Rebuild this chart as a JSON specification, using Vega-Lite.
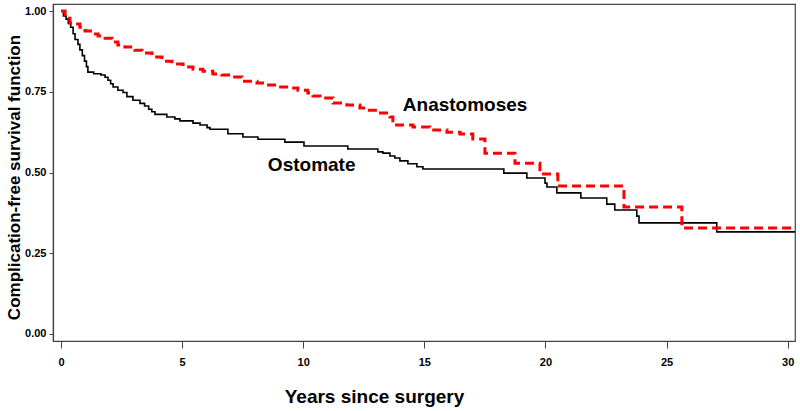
{
  "$schema": "https://vega.github.io/schema/vega-lite/v6.json",
  "width": 742,
  "height": 337,
  "autosize": {"type": "none"},
  "padding": {"left": 53, "top": 4, "right": 5, "bottom": 70},
  "background": "white",
  "config": {
    "view": {"stroke": "#444444", "strokeWidth": 1.2},
    "font": "Liberation Sans",
    "axis": {
      "grid": false,
      "domainColor": "#444444",
      "domainWidth": 1.2,
      "tickColor": "#444444",
      "labelFont": "Liberation Sans",
      "labelFontWeight": "bold",
      "labelFontSize": 11,
      "labelColor": "#000000",
      "titleFont": "Liberation Sans",
      "titleFontWeight": "bold",
      "titleColor": "#000000",
      "labelFlush": false
    }
  },
  "datasets": {
    "km": [
      {"group": "Ostomate", "t": 0, "s": 1.0},
      {"group": "Ostomate", "t": 0.10, "s": 0.985},
      {"group": "Ostomate", "t": 0.21, "s": 0.975},
      {"group": "Ostomate", "t": 0.30, "s": 0.962},
      {"group": "Ostomate", "t": 0.40, "s": 0.950},
      {"group": "Ostomate", "t": 0.50, "s": 0.930},
      {"group": "Ostomate", "t": 0.58, "s": 0.912},
      {"group": "Ostomate", "t": 0.70, "s": 0.897},
      {"group": "Ostomate", "t": 0.78, "s": 0.880},
      {"group": "Ostomate", "t": 0.88, "s": 0.862},
      {"group": "Ostomate", "t": 0.97, "s": 0.845},
      {"group": "Ostomate", "t": 1.05, "s": 0.828},
      {"group": "Ostomate", "t": 1.11, "s": 0.811},
      {"group": "Ostomate", "t": 1.35, "s": 0.806},
      {"group": "Ostomate", "t": 1.65, "s": 0.802},
      {"group": "Ostomate", "t": 1.82, "s": 0.795},
      {"group": "Ostomate", "t": 1.94, "s": 0.786},
      {"group": "Ostomate", "t": 2.05, "s": 0.775},
      {"group": "Ostomate", "t": 2.15, "s": 0.765},
      {"group": "Ostomate", "t": 2.35, "s": 0.755},
      {"group": "Ostomate", "t": 2.56, "s": 0.748},
      {"group": "Ostomate", "t": 2.72, "s": 0.735},
      {"group": "Ostomate", "t": 2.97, "s": 0.724},
      {"group": "Ostomate", "t": 3.26, "s": 0.714},
      {"group": "Ostomate", "t": 3.45, "s": 0.706},
      {"group": "Ostomate", "t": 3.62, "s": 0.696},
      {"group": "Ostomate", "t": 3.75, "s": 0.688},
      {"group": "Ostomate", "t": 3.88, "s": 0.680},
      {"group": "Ostomate", "t": 4.37, "s": 0.672},
      {"group": "Ostomate", "t": 4.70, "s": 0.666},
      {"group": "Ostomate", "t": 4.91, "s": 0.660},
      {"group": "Ostomate", "t": 5.45, "s": 0.653},
      {"group": "Ostomate", "t": 5.74, "s": 0.647},
      {"group": "Ostomate", "t": 6.03, "s": 0.639},
      {"group": "Ostomate", "t": 6.15, "s": 0.634},
      {"group": "Ostomate", "t": 6.89, "s": 0.620},
      {"group": "Ostomate", "t": 7.51, "s": 0.610},
      {"group": "Ostomate", "t": 8.13, "s": 0.603},
      {"group": "Ostomate", "t": 9.24, "s": 0.594},
      {"group": "Ostomate", "t": 10.03, "s": 0.582},
      {"group": "Ostomate", "t": 11.84, "s": 0.573},
      {"group": "Ostomate", "t": 13.08, "s": 0.564},
      {"group": "Ostomate", "t": 13.29, "s": 0.560},
      {"group": "Ostomate", "t": 13.58, "s": 0.551},
      {"group": "Ostomate", "t": 13.78, "s": 0.545},
      {"group": "Ostomate", "t": 13.99, "s": 0.536},
      {"group": "Ostomate", "t": 14.32, "s": 0.527},
      {"group": "Ostomate", "t": 14.69, "s": 0.518},
      {"group": "Ostomate", "t": 14.94, "s": 0.511},
      {"group": "Ostomate", "t": 18.28, "s": 0.498},
      {"group": "Ostomate", "t": 19.23, "s": 0.483},
      {"group": "Ostomate", "t": 19.98, "s": 0.467},
      {"group": "Ostomate", "t": 20.06, "s": 0.455},
      {"group": "Ostomate", "t": 20.47, "s": 0.437},
      {"group": "Ostomate", "t": 21.46, "s": 0.421},
      {"group": "Ostomate", "t": 22.53, "s": 0.402},
      {"group": "Ostomate", "t": 22.86, "s": 0.384},
      {"group": "Ostomate", "t": 23.77, "s": 0.365},
      {"group": "Ostomate", "t": 23.86, "s": 0.344},
      {"group": "Ostomate", "t": 27.07, "s": 0.316},
      {"group": "Ostomate", "t": 30.3, "s": 0.316},
      {"group": "Anastomoses", "t": 0, "s": 1.0},
      {"group": "Anastomoses", "t": 0.17, "s": 0.978},
      {"group": "Anastomoses", "t": 0.37, "s": 0.963},
      {"group": "Anastomoses", "t": 0.58, "s": 0.960},
      {"group": "Anastomoses", "t": 0.78, "s": 0.950},
      {"group": "Anastomoses", "t": 0.99, "s": 0.938},
      {"group": "Anastomoses", "t": 1.28, "s": 0.929},
      {"group": "Anastomoses", "t": 1.53, "s": 0.923},
      {"group": "Anastomoses", "t": 1.82, "s": 0.916},
      {"group": "Anastomoses", "t": 2.10, "s": 0.904},
      {"group": "Anastomoses", "t": 2.35, "s": 0.895},
      {"group": "Anastomoses", "t": 2.64, "s": 0.889},
      {"group": "Anastomoses", "t": 3.05, "s": 0.879},
      {"group": "Anastomoses", "t": 3.34, "s": 0.870},
      {"group": "Anastomoses", "t": 3.76, "s": 0.858},
      {"group": "Anastomoses", "t": 4.17, "s": 0.845},
      {"group": "Anastomoses", "t": 4.58, "s": 0.836},
      {"group": "Anastomoses", "t": 5.04, "s": 0.827},
      {"group": "Anastomoses", "t": 5.45, "s": 0.820},
      {"group": "Anastomoses", "t": 5.86, "s": 0.814},
      {"group": "Anastomoses", "t": 6.27, "s": 0.805},
      {"group": "Anastomoses", "t": 6.64, "s": 0.802},
      {"group": "Anastomoses", "t": 7.06, "s": 0.796},
      {"group": "Anastomoses", "t": 7.47, "s": 0.783},
      {"group": "Anastomoses", "t": 8.09, "s": 0.777},
      {"group": "Anastomoses", "t": 8.50, "s": 0.771},
      {"group": "Anastomoses", "t": 8.91, "s": 0.765},
      {"group": "Anastomoses", "t": 9.45, "s": 0.762},
      {"group": "Anastomoses", "t": 9.78, "s": 0.755},
      {"group": "Anastomoses", "t": 10.19, "s": 0.746},
      {"group": "Anastomoses", "t": 10.40, "s": 0.737},
      {"group": "Anastomoses", "t": 10.69, "s": 0.731},
      {"group": "Anastomoses", "t": 11.23, "s": 0.715},
      {"group": "Anastomoses", "t": 11.80, "s": 0.709},
      {"group": "Anastomoses", "t": 12.34, "s": 0.700},
      {"group": "Anastomoses", "t": 12.63, "s": 0.693},
      {"group": "Anastomoses", "t": 13.08, "s": 0.684},
      {"group": "Anastomoses", "t": 13.58, "s": 0.672},
      {"group": "Anastomoses", "t": 13.70, "s": 0.647},
      {"group": "Anastomoses", "t": 14.53, "s": 0.641},
      {"group": "Anastomoses", "t": 15.23, "s": 0.632},
      {"group": "Anastomoses", "t": 15.93, "s": 0.625},
      {"group": "Anastomoses", "t": 16.47, "s": 0.619},
      {"group": "Anastomoses", "t": 17.00, "s": 0.604},
      {"group": "Anastomoses", "t": 17.50, "s": 0.560},
      {"group": "Anastomoses", "t": 18.74, "s": 0.529},
      {"group": "Anastomoses", "t": 19.77, "s": 0.495},
      {"group": "Anastomoses", "t": 20.51, "s": 0.458},
      {"group": "Anastomoses", "t": 23.24, "s": 0.393},
      {"group": "Anastomoses", "t": 25.63, "s": 0.328},
      {"group": "Anastomoses", "t": 30.3, "s": 0.328}
    ],
    "labels": [
      {"label": "Anastomoses", "t": 14.11, "s": 0.709},
      {"label": "Ostomate", "t": 8.54, "s": 0.523}
    ]
  },
  "layer": [
    {
      "data": {"name": "km"},
      "transform": [{"filter": "datum.group === 'Ostomate'"}],
      "mark": {"type": "line", "interpolate": "step-after", "color": "#000000", "strokeWidth": 1.6, "clip": true},
      "encoding": {
        "x": {
          "field": "t", "type": "quantitative",
          "scale": {"domain": [-0.33, 30.3], "nice": false, "zero": false},
          "axis": {
            "values": [0, 5, 10, 15, 20, 25, 30],
            "tickSize": 7,
            "labelPadding": 8,
            "title": "Years since surgery",
            "titleFontSize": 19,
            "titleX": 321,
            "titleY": 61,
            "titleAlign": "center",
            "titleBaseline": "alphabetic"
          }
        },
        "y": {
          "field": "s", "type": "quantitative",
          "scale": {"domain": [-0.022, 1.022], "nice": false, "zero": false},
          "axis": {
            "values": [0, 0.25, 0.5, 0.75, 1],
            "format": ".2f",
            "tickSize": 4,
            "labelPadding": 3,
            "title": "Complication-free survival function",
            "titleFontSize": 17,
            "titleAngle": -90,
            "titleX": -34,
            "titleY": 173,
            "titleAlign": "center",
            "titleBaseline": "alphabetic"
          }
        }
      }
    },
    {
      "data": {"name": "km"},
      "transform": [{"filter": "datum.group === 'Anastomoses'"}],
      "mark": {"type": "line", "interpolate": "step-after", "color": "#ff0000", "strokeWidth": 3, "strokeDash": [9, 5], "clip": true},
      "encoding": {
        "x": {"field": "t", "type": "quantitative"},
        "y": {"field": "s", "type": "quantitative"}
      }
    },
    {
      "data": {"name": "labels"},
      "mark": {"type": "text", "align": "left", "baseline": "middle", "font": "Liberation Sans", "fontWeight": "bold", "fontSize": 19, "color": "#000000"},
      "encoding": {
        "x": {"field": "t", "type": "quantitative"},
        "y": {"field": "s", "type": "quantitative"},
        "text": {"field": "label"}
      }
    }
  ]
}
